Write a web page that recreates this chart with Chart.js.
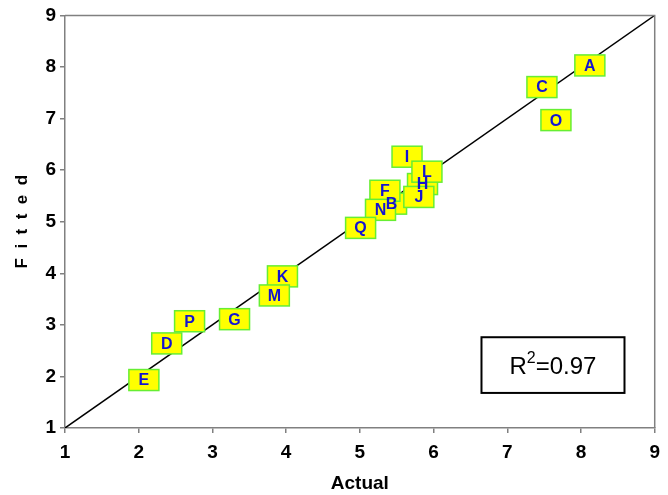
<!DOCTYPE html>
<html>
<head>
<meta charset="utf-8">
<script src="https://cdn.jsdelivr.net/npm/chart.js@4/dist/chart.umd.min.js"></script>
<style>
  html, body { margin: 0; padding: 0; background: #ffffff; }
  #wrap { width: 668px; height: 495px; position: relative; }
</style>
</head>
<body>
<div id="wrap"><canvas id="c" width="668" height="495"></canvas></div>
<script>
// Data (draw order chosen to match overlap of labels in the reference)
const pointLabels = ["A","C","O","E","D","P","G","K","M","B","F","N","Q","I","H","L","J"];
const actualValues = [8.12, 7.47, 7.66, 2.07, 2.38, 2.69, 3.30, 3.95, 3.84, 5.43, 5.34, 5.28, 5.01, 5.64, 5.85, 5.91, 5.80];
const fittedValues = [8.03, 7.61, 6.97, 1.93, 2.64, 3.07, 3.11, 3.94, 3.57, 5.35, 5.60, 5.23, 4.88, 6.26, 5.73, 5.97, 5.48];
const axisMin = 1;
const axisMax = 9;
const identityLine = [{x: 1, y: 1}, {x: 9, y: 9}];
const xTitle = "Actual";
const yTitle = "F  i  t  t  e  d";
const r2Text = "0.97";
// R² box corners in data units
const r2Box = {x0: 6.65, x1: 8.59, y0: 2.76, y1: 1.68};

const points = pointLabels.map((l, i) => ({x: actualValues[i], y: fittedValues[i]}));

const FONT = "Arial, 'Liberation Sans', sans-serif";

const labelBoxes = {
  id: 'labelBoxes',
  afterDatasetsDraw(chart) {
    const ctx = chart.ctx;
    const meta = chart.getDatasetMeta(1);
    const w = 30, h = 21;
    ctx.save();
    meta.data.forEach((el) => {
      const x = el.x, y = el.y;
      ctx.fillStyle = '#FFFF00';
      ctx.fillRect(x - w / 2, y - h / 2, w, h);
      ctx.strokeStyle = '#66EE33';
      ctx.lineWidth = 1.5;
      ctx.strokeRect(x - w / 2, y - h / 2, w, h);
    });
    meta.data.forEach((el, i) => {
      ctx.fillStyle = '#1414D2';
      ctx.font = "bold 16px " + FONT;
      ctx.textAlign = 'center';
      ctx.textBaseline = 'middle';
      ctx.fillText(pointLabels[i], el.x, el.y + 1);
    });
    ctx.restore();
  },
  afterDraw(chart) {
    const ctx = chart.ctx;
    const a = chart.chartArea;
    const xs = chart.scales.x, ys = chart.scales.y;
    ctx.save();
    ctx.strokeStyle = '#808080';
    ctx.lineWidth = 1.5;
    ctx.beginPath();
    ctx.moveTo(a.left, a.top);
    ctx.lineTo(a.right, a.top);
    ctx.lineTo(a.right, a.bottom);
    ctx.stroke();
    const bx0 = xs.getPixelForValue(r2Box.x0), bx1 = xs.getPixelForValue(r2Box.x1);
    const by0 = ys.getPixelForValue(r2Box.y0), by1 = ys.getPixelForValue(r2Box.y1);
    ctx.fillStyle = '#ffffff';
    ctx.fillRect(bx0, by0, bx1 - bx0, by1 - by0);
    ctx.strokeStyle = '#000000';
    ctx.lineWidth = 2;
    ctx.strokeRect(bx0, by0, bx1 - bx0, by1 - by0);
    ctx.fillStyle = '#000000';
    ctx.textBaseline = 'alphabetic';
    ctx.textAlign = 'left';
    const big = "24px " + FONT, small = "16px " + FONT;
    ctx.font = big;
    const wR = ctx.measureText("R").width;
    const wRest = ctx.measureText("=" + r2Text).width;
    ctx.font = small;
    const w2 = ctx.measureText("2").width;
    const total = wR + w2 + wRest;
    let tx = (bx0 + bx1) / 2 - total / 2;
    const base = (by0 + by1) / 2 + 9;
    ctx.font = big;
    ctx.fillText("R", tx, base);
    tx += wR;
    ctx.font = small;
    ctx.fillText("2", tx, base - 11);
    tx += w2;
    ctx.font = big;
    ctx.fillText("=" + r2Text, tx, base);
    ctx.restore();
  }
};

new Chart(document.getElementById('c'), {
  data: {
    datasets: [
      {
        type: 'line',
        data: identityLine,
        borderColor: '#000000',
        borderWidth: 1.5,
        pointRadius: 0,
        fill: false,
        tension: 0
      },
      {
        type: 'scatter',
        data: points,
        pointRadius: 0,
        pointHoverRadius: 0,
        backgroundColor: '#FFFF00'
      }
    ]
  },
  options: {
    responsive: false,
    animation: false,
    events: [],
    layout: { padding: { top: 14, right: 11, left: 0, bottom: 0 } },
    plugins: { legend: { display: false }, tooltip: { enabled: false } },
    scales: {
      x: {
        type: 'linear',
        min: axisMin, max: axisMax,
        afterFit(s) { s.height = 67; },
        border: { color: '#808080', width: 1.5 },
        grid: { drawOnChartArea: false, tickLength: 5, color: '#808080', lineWidth: 1.5 },
        ticks: { stepSize: 1, color: '#000000', padding: 8, font: { family: FONT, size: 19, weight: 'bold' } },
        title: { display: true, text: xTitle, color: '#000000', padding: { top: 0, bottom: 0 }, font: { family: FONT, size: 19, weight: 'bold' } }
      },
      y: {
        type: 'linear',
        min: axisMin, max: axisMax,
        afterFit(s) { s.width = 65; },
        border: { color: '#808080', width: 1.5 },
        grid: { drawOnChartArea: false, tickLength: 5, color: '#808080', lineWidth: 1.5 },
        ticks: { stepSize: 1, color: '#000000', padding: 4, font: { family: FONT, size: 19, weight: 'bold' } },
        title: { display: true, text: yTitle, color: '#000000', padding: { top: 12, bottom: 0 }, font: { family: FONT, size: 17, weight: 'bold' } }
      }
    }
  },
  plugins: [labelBoxes]
});
</script>
</body>
</html>
